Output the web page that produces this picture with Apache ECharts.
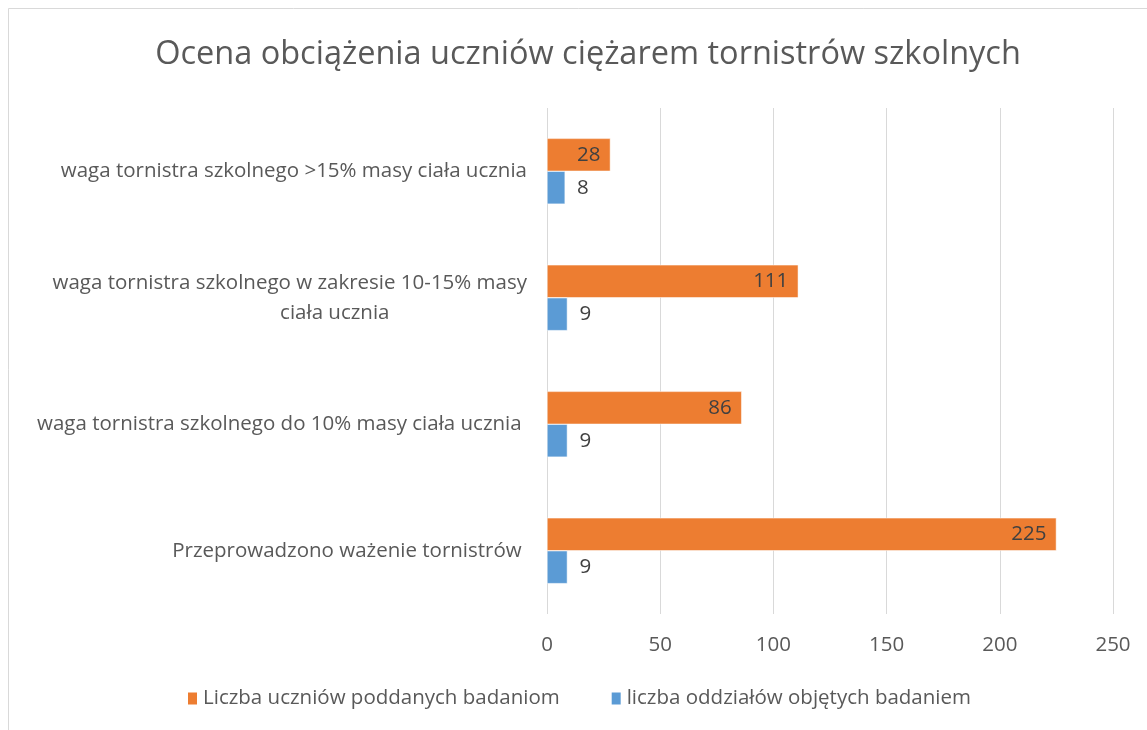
<!DOCTYPE html>
<html>
<head>
<meta charset="utf-8">
<script src="https://cdn.jsdelivr.net/npm/echarts@6/dist/echarts.min.js"></script>
<style>
  html, body { margin: 0; padding: 0; background: #fff; }
  #chart { width: 1147px; height: 730px; }
</style>
</head>
<body>
<div id="chart"></div>
<script>
  const categories = [
    'Przeprowadzono ważenie tornistrów ',
    'waga tornistra szkolnego do 10% masy ciała ucznia ',
    'waga tornistra szkolnego w zakresie 10-15% masy ciała ucznia',
    'waga tornistra szkolnego >15% masy ciała ucznia'
  ];
  const uczniowie = [225, 86, 111, 28];
  const oddzialy = [9, 9, 9, 8];
  const xTicks = [0, 50, 100, 150, 200, 250];

  const FONT = 'Open Sans';
  const FS = 20.5;
  const chart = echarts.init(document.getElementById('chart'));

  const option = {
    backgroundColor: '#fff',
    textStyle: { fontFamily: FONT },
    title: {
      text: 'Ocena obciążenia uczniów ciężarem tornistrów szkolnych',
      left: 583,
      top: 33,
      textAlign: 'center',
      textStyle: { fontFamily: FONT, fontSize: 32.5, fontWeight: 'normal', color: '#595959' }
    },
    graphic: [{
      type: 'rect',
      shape: { x: 8.5, y: 8.5, width: 1160, height: 760 },
      style: { fill: 'none', stroke: '#d9d9d9', lineWidth: 1 },
      silent: true
    }],
    legend: {
      data: ['Liczba uczniów poddanych badaniom', 'liczba oddziałów objętych badaniem'],
      left: 181,
      top: 683,
      itemWidth: 11,
      itemHeight: 14,
      itemGap: 50,
      icon: 'rect',
      textStyle: { fontFamily: FONT, fontSize: FS, color: '#595959' }
    },
    grid: { left: 547, right: 34, top: 108, bottom: 116, containLabel: false },
    xAxis: {
      type: 'value',
      min: xTicks[0],
      max: xTicks[xTicks.length - 1],
      interval: 50,
      axisLine: { show: false },
      axisTick: { show: false },
      splitLine: { lineStyle: { color: '#d9d9d9', width: 1 } },
      axisLabel: { margin: 21, fontFamily: FONT, fontSize: FS, color: '#595959' }
    },
    yAxis: {
      type: 'category',
      data: categories,
      axisLine: { show: false },
      axisTick: { show: false },
      axisLabel: {
        margin: 20,
        fontFamily: FONT,
        fontSize: FS,
        color: '#595959',
        formatter: (v) => {
          if (v.indexOf('w zakresie') >= 0) {
            return '{c|waga tornistra szkolnego w zakresie 10-15% masy}\n{d|ciała ucznia}';
          }
          return v;
        },
        rich: {
          c: { align: 'center', fontFamily: FONT, fontSize: FS, color: '#595959', lineHeight: 30 },
          d: { align: 'center', fontFamily: FONT, fontSize: FS, color: '#595959', lineHeight: 30, padding: [0, 0, 0, 90] }
        }
      }
    },
    series: [
      {
        name: 'Liczba uczniów poddanych badaniom',
        type: 'bar',
        data: uczniowie,
        barGap: '0%',
        barCategoryGap: '48%',
        itemStyle: { color: '#ED7D31', borderColor: '#ffffff', borderWidth: 0.5 },
        label: {
          show: true,
          position: 'insideRight',
          distance: 10,
          fontFamily: FONT,
          fontSize: FS,
          color: '#404040'
        }
      },
      {
        name: 'liczba oddziałów objętych badaniem',
        type: 'bar',
        data: oddzialy,
        barGap: '0%',
        barCategoryGap: '48%',
        itemStyle: { color: '#5B9BD5', borderColor: '#ffffff', borderWidth: 0.5 },
        label: {
          show: true,
          position: 'right',
          distance: 12,
          fontFamily: FONT,
          fontSize: FS,
          color: '#404040'
        }
      }
    ]
  };

  chart.setOption(option);
</script>
</body>
</html>
